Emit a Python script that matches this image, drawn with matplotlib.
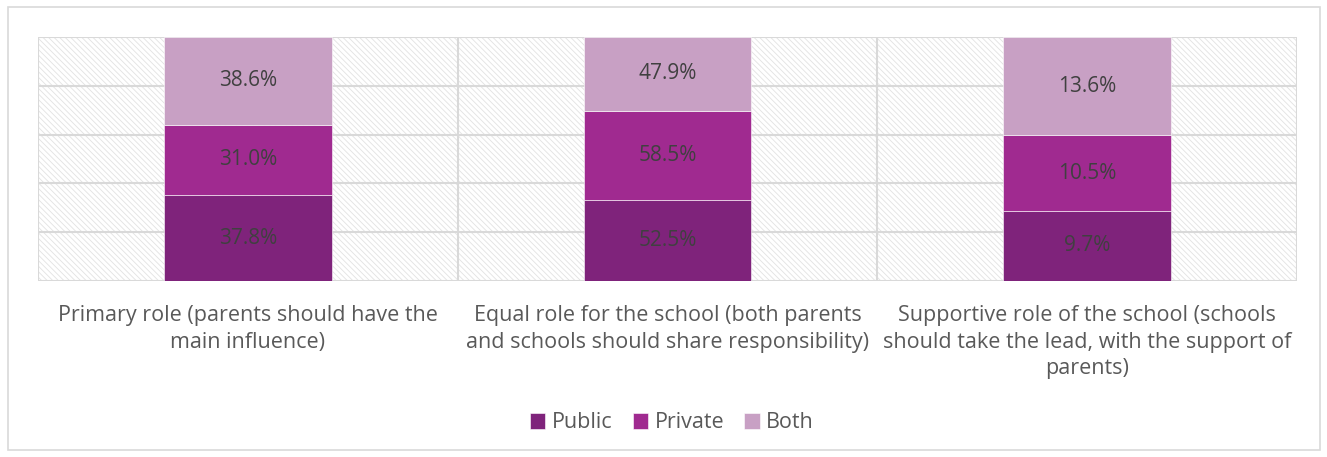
import numpy as np
import matplotlib.pyplot as plt
from matplotlib.patches import Rectangle

plt.rcParams['font.family'] = ['Open Sans', 'DejaVu Sans']
plt.rcParams['hatch.linewidth'] = 0.6

# Survey answers, share of respondents by school type
categories = [
    'Primary role (parents should have the\nmain influence)',
    'Equal role for the school (both parents\nand schools should share responsibility)',
    'Supportive role of the school (schools\nshould take the lead, with the support of\nparents)',
]
series = ['Public', 'Private', 'Both']
public = [37.8, 52.5, 9.7]
private = [31.0, 58.5, 10.5]
both = [38.6, 47.9, 13.6]
colors = ['#7f237b', '#a02a90', '#c8a0c4']

values = np.array([public, private, both])
totals = values.sum(axis=0)
shares = values / totals * 100  # 100% stacked

fig = plt.figure(figsize=(13.27, 4.57), dpi=100)
ax = fig.add_axes([38 / 1327, 1 - 281 / 457, (1297 - 38) / 1327, (281 - 37) / 457])

# hatched plot area
ax.add_patch(Rectangle((0, 0), 1, 1, transform=ax.transAxes, fill=False,
                       hatch=chr(92) * 6, edgecolor='#e2e2e2', linewidth=0.0, zorder=0))

x = np.arange(len(categories))
bottom = np.zeros(len(categories))
for name, vals, raw, col in zip(series, shares, values, colors):
    ax.bar(x, vals, 0.4, bottom=bottom, color=col, label=name,
           edgecolor='#ffffff', linewidth=0.4, zorder=3)
    for xi, b, v, r in zip(x, bottom, vals, raw):
        ax.text(xi, b + v / 2, f'{r:.1f}%', ha='center', va='center',
                fontsize=15, color='#404040', zorder=4)
    bottom += vals

ax.set_xlim(-0.5, len(categories) - 0.5)
ax.set_ylim(0, 100)
for yv in np.arange(0, 101, 20):
    ax.axhline(yv, color='#d9d9d9', linewidth=1.5, zorder=1)
for xv in np.arange(-0.5, len(categories), 1):
    ax.axvline(xv, color='#d9d9d9', linewidth=1.5, zorder=1)

ax.set_yticks([])
ax.set_xticks(x)
ax.set_xticklabels(categories, fontsize=15.5, color='#595959', linespacing=1.37)
ax.tick_params(axis='x', length=0, pad=17)
for s in ax.spines.values():
    s.set_visible(False)

fig.legend(loc='center', bbox_to_anchor=(672 / 1327, 1 - 423 / 457), ncol=3, frameon=False,
           fontsize=15.5, labelcolor='#595959', handlelength=0.7, handleheight=0.7,
           handletextpad=0.3, columnspacing=0.95)

# chart border
fig.add_artist(Rectangle((8 / 1327, 1 - 450 / 457), 1312 / 1327, 443 / 457,
                         transform=fig.transFigure, fill=False,
                         edgecolor='#d9d9d9', linewidth=1.2))

fig.savefig('out.png', dpi=100)
